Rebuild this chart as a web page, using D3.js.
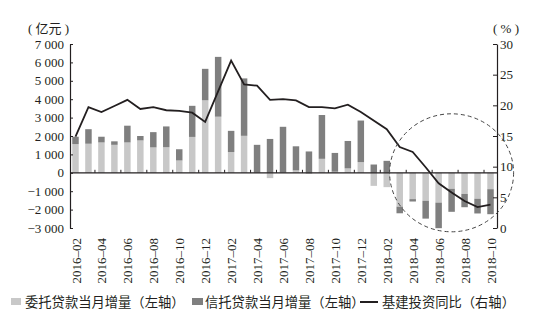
<!DOCTYPE html>
<html><head><meta charset="utf-8">
<script src="https://cdn.jsdelivr.net/npm/d3@7"></script>
<style>
html,body{margin:0;padding:0;background:#fff;}
svg{display:block;}
</style></head>
<body><svg id="c" width="550" height="328"></svg>
<script>
const months = ['2016-02','2016-03','2016-04','2016-05','2016-06','2016-07','2016-08','2016-09','2016-10','2016-11','2016-12',
'2017-01','2017-02','2017-03','2017-04','2017-05','2017-06','2017-07','2017-08','2017-09','2017-10','2017-11','2017-12',
'2018-01','2018-02','2018-03','2018-04','2018-05','2018-06','2018-07','2018-08','2018-09','2018-10'];
// 委托贷款当月增量（亿元）
const weituo = [1560,1580,1650,1520,1650,1760,1380,1390,670,1950,3940,
3050,1130,2010,10,-290,10,130,-60,760,60,240,580,
-710,-780,-1840,-1430,-1520,-1620,-870,-1150,-1410,-890];
// 信托贷款当月增量（亿元）
const xintuo = [400,790,310,190,910,240,830,1130,610,1690,1710,
3250,1150,3120,1510,1840,2490,1310,1160,2380,1020,1490,2260,
450,650,-360,-130,-970,-1390,-1250,-720,-800,-1360];
// 基建投资同比（%）
const infra = [14.9,19.7,18.9,19.9,20.9,19.4,19.7,19.2,19.1,18.8,17.3,
null,27.3,23.4,23.2,20.9,21.0,20.8,19.7,19.7,19.5,20.1,18.9,
null,16.1,13.2,12.4,9.9,7.3,5.8,4.4,3.4,3.8];
const leftTicks = [-3000,-2000,-1000,0,1000,2000,3000,4000,5000,6000,7000];
const rightTicks = [0,5,10,15,20,25,30];
const seriesNames = ['委托贷款当月增量（左轴）','信托贷款当月增量（左轴）','基建投资同比（右轴）'];

const svg = d3.select('#c');
const ink = '#231f20';
const cLight = '#c8c8c8', cDark = '#7f7f7f';
const serif = "'Liberation Serif','Times New Roman',serif";
const cjk = "'Liberation Serif','Noto Sans CJK SC',serif";

const x = d3.scaleBand().domain(months).range([69,497]).paddingInner(0.5).paddingOuter(0.25);
const yL = d3.scaleLinear().domain([-3000,7000]).range([228,44]);
const yR = d3.scaleLinear().domain([0,30]).range([228,44]);

const table = months.map((m,i)=>({m, weituo: weituo[i], xintuo: xintuo[i]}));
const stack = d3.stack().keys(['weituo','xintuo']).offset(d3.stackOffsetDiverging)(table);
const colors = {weituo:cLight, xintuo:cDark};

const g = svg.append('g');
stack.forEach(s=>{
  g.append('g').attr('fill', colors[s.key]).selectAll('rect').data(s).join('rect')
   .attr('x', d=>x(d.data.m))
   .attr('width', x.bandwidth())
   .attr('y', d=>yL(Math.max(d[0],d[1])))
   .attr('height', d=>Math.abs(yL(d[0])-yL(d[1])));
});

// line
const pts = months.map((m,i)=>({m, v: infra[i]})).filter(d=>d.v!==null);
svg.append('path').datum(pts)
  .attr('fill','none').attr('stroke',ink).attr('stroke-width',1.8).attr('stroke-linejoin','miter')
  .attr('d', d3.line().x(d=>x(d.m)+x.bandwidth()/2).y(d=>yR(d.v)));

// left axis
const fmt = v => (v<0?'\u2212':'') + d3.format(',')(Math.abs(v)).replace(/,/g,' ');
const la = svg.append('g').attr('transform','translate(70,0)')
  .call(d3.axisLeft(yL).tickValues(leftTicks).tickFormat(fmt).tickSize(-3).tickPadding(6).tickSizeOuter(0));
la.select('.domain').attr('stroke',ink).attr('stroke-width',1.2);
la.selectAll('line').attr('stroke',ink);
la.selectAll('text').attr('font-family',serif).attr('font-size',13).attr('fill',ink);

// right axis
const ra = svg.append('g').attr('transform','translate(497,0)')
  .call(d3.axisRight(yR).tickValues(rightTicks).tickSize(-4).tickPadding(3).tickSizeOuter(0));
ra.select('.domain').attr('stroke',ink).attr('stroke-width',1.2);
ra.selectAll('line').attr('stroke',ink);
ra.selectAll('text').attr('font-family',serif).attr('font-size',13).attr('fill',ink);

// x axis at zero
const y0 = yL(0);
svg.append('line').attr('x1',70).attr('x2',497).attr('y1',y0).attr('y2',y0).attr('stroke',ink).attr('stroke-width',1.2);
const labeled = months.filter((m,i)=>i%2===0);
const step = x.step();
svg.append('g').selectAll('line').data(labeled.slice(1)).join('line')
  .attr('x1', d=>x(d)-(step-x.bandwidth())/2).attr('x2', d=>x(d)-(step-x.bandwidth())/2)
  .attr('y1', y0).attr('y2', y0-3).attr('stroke',ink);
svg.append('g').selectAll('text').data(labeled).join('text')
  .attr('transform', d=>`translate(${x(d)+x.bandwidth()/2+0.5},238) rotate(-90)`)
  .attr('text-anchor','end').attr('dy','0.35em')
  .attr('font-family',serif).attr('font-size',13).attr('fill',ink)
  .text(d=>d.replace('-','\u2013'));

// unit labels
svg.append('text').attr('x',28).attr('y',33).attr('font-family',cjk).attr('font-size',13).attr('fill',ink).text('( 亿元 )');
svg.append('text').attr('x',493).attr('y',33).attr('font-family',cjk).attr('font-size',13).attr('fill',ink).text('( % )');

// dashed circle annotation
svg.append('ellipse')
  .attr('cx', x('2018-07')+x.bandwidth()/2).attr('cy', y0)
  .attr('rx', 62).attr('ry', 59)
  .attr('fill','none').attr('stroke','#444').attr('stroke-width',1).attr('stroke-dasharray','4,3');

// legend
const lg = svg.append('g').attr('font-family',"'Noto Sans CJK SC',sans-serif").attr('font-size',13.3).attr('fill',ink);
lg.append('rect').attr('x',11).attr('y',298).attr('width',10).attr('height',7).attr('fill',cLight);
lg.append('text').attr('x',25).attr('y',302).attr('dy','0.35em').text(seriesNames[0]);
lg.append('rect').attr('x',192).attr('y',298).attr('width',11).attr('height',7).attr('fill',cDark);
lg.append('text').attr('x',205).attr('y',302).attr('dy','0.35em').text(seriesNames[1]);
lg.append('line').attr('x1',360).attr('x2',378).attr('y1',302).attr('y2',302).attr('stroke',ink).attr('stroke-width',2);
lg.append('text').attr('x',382).attr('y',302).attr('dy','0.35em').text(seriesNames[2]);
</script></body></html>
